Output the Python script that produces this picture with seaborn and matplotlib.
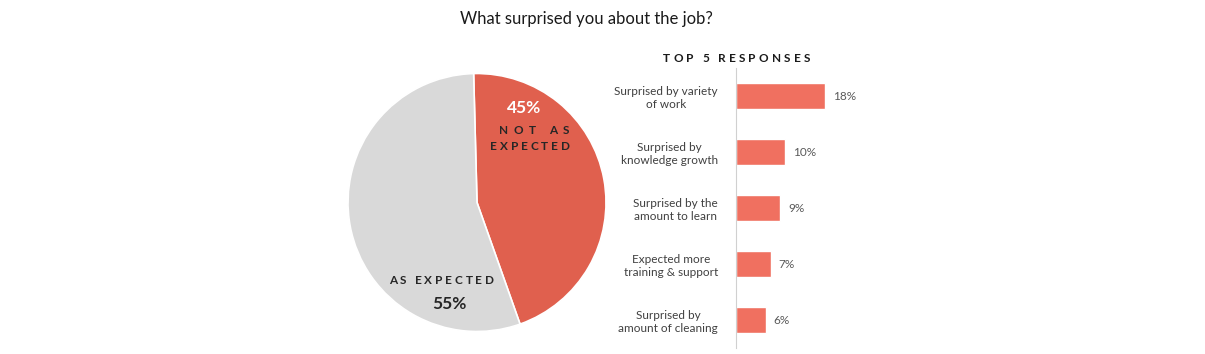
import numpy as np
import pandas as pd
import matplotlib
matplotlib.use("Agg")
import matplotlib.pyplot as plt
import seaborn as sns

# Data
pie_labels = ["Not as expected", "As expected"]
pie_values = [45, 55]
categories = ["Surprised by variety\nof work", "Surprised by\nknowledge growth",
              "Surprised by the\namount to learn", "Expected more\ntraining & support",
              "Surprised by\namount of cleaning"]
values = [18, 10, 9, 7, 6]

sns.set_theme(style="white")
plt.rcParams['font.family'] = ['Lato', 'DejaVu Sans']

W, H = 1205, 354
fig = plt.figure(figsize=(W / 100, H / 100), dpi=100)
fig.patch.set_facecolor("white")
renderer = fig.canvas.get_renderer()

def px_axes(x0, y0, x1, y1):
    return fig.add_axes([x0 / W, 1 - y1 / H, (x1 - x0) / W, (y1 - y0) / H])

def spaced_text(xc, y, s, width_px, **kw):
    """Draw letter-spaced text centred at (xc, y) in pixel coords spanning width_px."""
    widths = []
    for ch in s:
        if ch == " ":
            t = fig.text(0, 0, "n", **kw)
            w = t.get_window_extent(renderer).width * 0.4
        else:
            t = fig.text(0, 0, ch, **kw)
            w = t.get_window_extent(renderer).width
        t.remove()
        widths.append(w)
    gap = (width_px - sum(widths)) / (len(s) - 1)
    x = xc - width_px / 2
    for ch, w in zip(s, widths):
        if ch != " ":
            fig.text(x / W, 1 - y / H, ch, ha="left", va="center", **kw)
        x += w + gap

RED_PIE = "#E0604E"
RED_BAR = "#F07060"
GRAY = "#D9D9D9"
DARK = "#262626"

# Pie
axp = px_axes(348, 73.5, 606, 331.5)
axp.pie(pie_values, colors=[RED_PIE, GRAY], startangle=91.5, counterclock=False,
        wedgeprops=dict(edgecolor="white", linewidth=1.2))
axp.set_xlim(-1, 1)
axp.set_ylim(-1, 1)
axp.set_aspect("equal")

fig.text(524 / W, 1 - 108 / H, "45%", ha="center", va="center", color="white",
         fontsize=12.5, fontweight="bold")
fig.text(449 / W, 1 - 304 / H, "55%", ha="center", va="center", color=DARK,
         fontsize=12.5, fontweight="bold")
lbl_kw = dict(color=DARK, fontsize=8.5, fontweight="bold")
spaced_text(534, 131, "NOT AS", 70, **lbl_kw)
spaced_text(530, 146, "EXPECTED", 80, **lbl_kw)
spaced_text(441.5, 281, "AS EXPECTED", 105, **lbl_kw)

# Bars
axb = px_axes(736, 68, 1036, 348)
df = pd.DataFrame({"category": categories, "value": values})
sns.barplot(data=df, y="category", x="value", orient="h", color=RED_BAR,
            saturation=1, width=0.45, ax=axb)
axb.set_xlim(0, 300 / 4.93)
axb.set_ylim(4.5, -0.5)
axb.set_xlabel("")
axb.set_ylabel("")
axb.set_xticks([])
for s in ["top", "right", "bottom"]:
    axb.spines[s].set_visible(False)
axb.spines["left"].set_color("#D0D0D0")
axb.spines["left"].set_linewidth(0.8)
axb.tick_params(axis="y", which="major", length=0, pad=13, labelsize=8.5, labelcolor="#404040")
axb.set_yticks(np.arange(-0.5, 5.0, 1.0), minor=True)
axb.tick_params(axis="y", which="minor", length=4, color="#D0D0D0", width=0.8)
for lbl in axb.get_yticklabels():
    lbl.set_horizontalalignment("right")
    lbl.set_multialignment("center")
for i, v in enumerate(values):
    axb.text(v + 1.6, i, f"{v}%", va="center", ha="left", fontsize=8.5, color="#595959")

fig.text(586.5 / W, 1 - 19 / H, "What surprised you about the job?", ha="center", va="center",
         fontsize=12, color="#1a1a1a")
spaced_text(736.5, 58, "TOP 5 RESPONSES", 147, color="#1a1a1a", fontsize=8.5, fontweight="bold")

fig.savefig("out.png", dpi=100, facecolor="white")
